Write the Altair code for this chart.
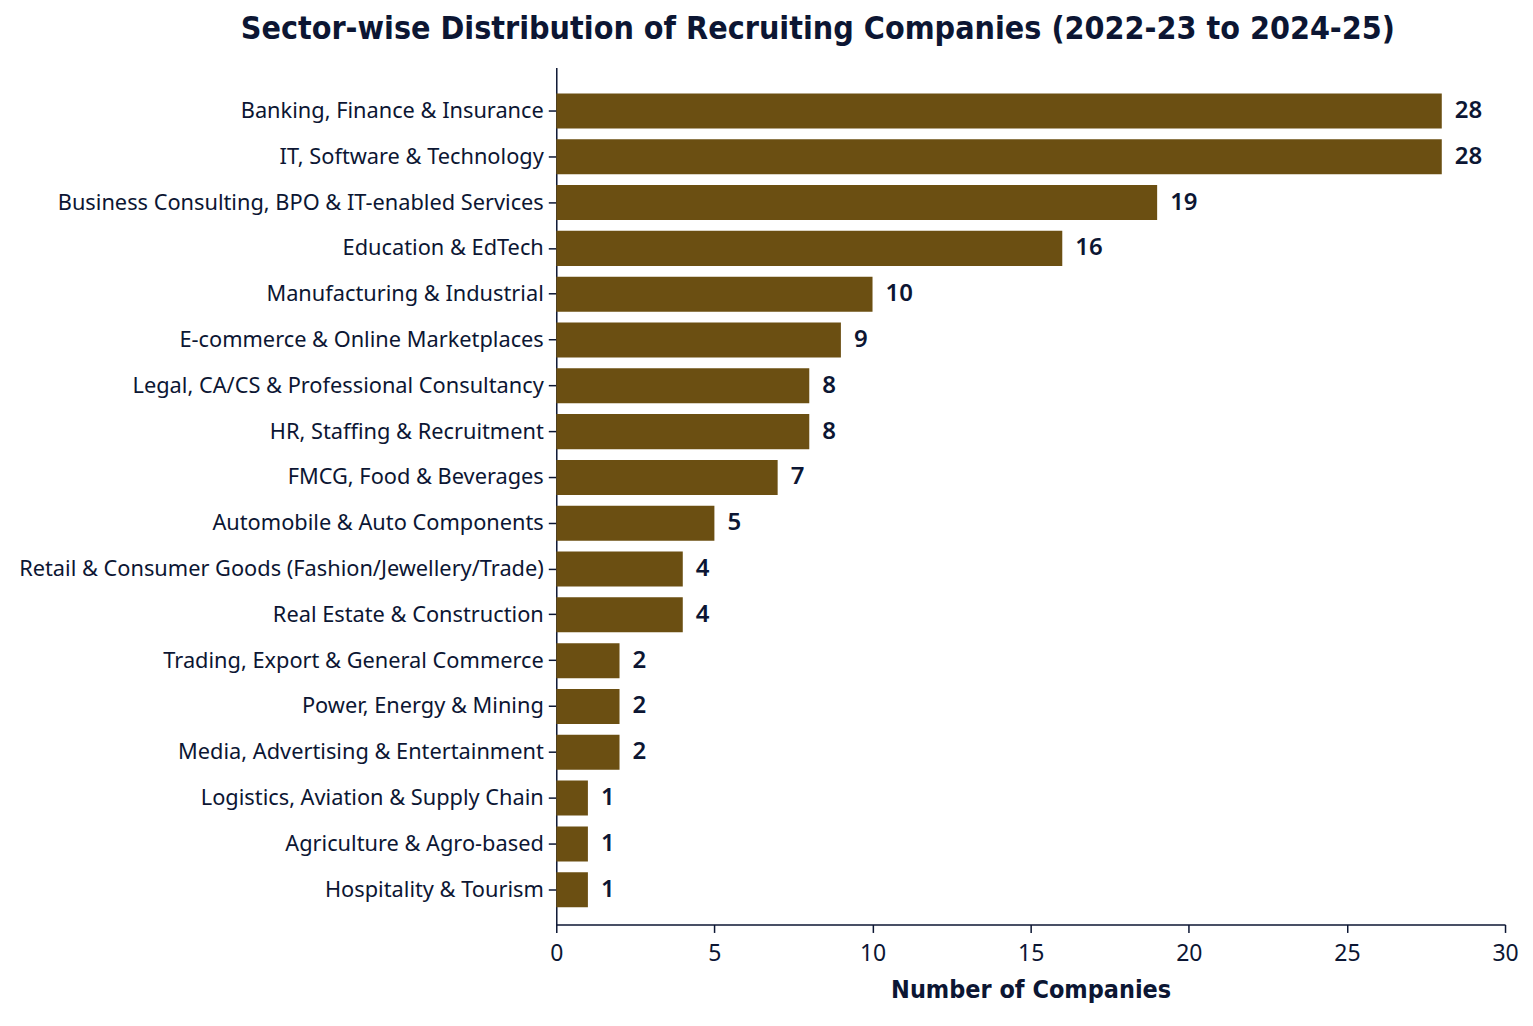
import altair as alt
import pandas as pd

sectors = [
    "Banking, Finance & Insurance",
    "IT, Software & Technology",
    "Business Consulting, BPO & IT-enabled Services",
    "Education & EdTech",
    "Manufacturing & Industrial",
    "E-commerce & Online Marketplaces",
    "Legal, CA/CS & Professional Consultancy",
    "HR, Staffing & Recruitment",
    "FMCG, Food & Beverages",
    "Automobile & Auto Components",
    "Retail & Consumer Goods (Fashion/Jewellery/Trade)",
    "Real Estate & Construction",
    "Trading, Export & General Commerce",
    "Power, Energy & Mining",
    "Media, Advertising & Entertainment",
    "Logistics, Aviation & Supply Chain",
    "Agriculture & Agro-based",
    "Hospitality & Tourism",
]
counts = [28, 28, 19, 16, 10, 9, 8, 8, 7, 5, 4, 4, 2, 2, 2, 1, 1, 1]
x_ticks = [0, 5, 10, 15, 20, 25, 30]

df = pd.DataFrame({"sector": sectors, "count": counts})

TEXT = "#0c1633"
BAR = "#6b4f12"
LABEL_FONT = "Noto Sans"
TITLE_FONT = "DejaVu Sans Condensed"

y_enc = alt.Y(
    "sector:N",
    sort=sectors,
    scale=alt.Scale(paddingInner=0.235, paddingOuter=0.47, align=0.6),
    axis=alt.Axis(
        title=None,
        labelFont=LABEL_FONT,
        labelFontSize=21.8,
        labelColor=TEXT,
        labelLimit=600,
        labelPadding=5,
        tickSize=8,
        tickColor=TEXT,
        tickWidth=1.5,
        domainColor=TEXT,
        domainWidth=1.5,
        grid=False,
    ),
)
x_enc = alt.X(
    "count:Q",
    scale=alt.Scale(domain=[0, 30], nice=False),
    axis=alt.Axis(
        values=x_ticks,
        title="Number of Companies",
        titleFont=TITLE_FONT,
        titleFontSize=25,
        titleFontWeight="bold",
        titleColor=TEXT,
        titlePadding=12,
        labelFont=LABEL_FONT,
        labelFontSize=23,
        labelColor=TEXT,
        labelPadding=10,
        labelFlush=False,
        tickSize=8,
        tickColor=TEXT,
        tickWidth=1.5,
        domainColor=TEXT,
        domainWidth=1.5,
        grid=False,
    ),
)

base = alt.Chart(df)
bars = base.mark_bar(color=BAR).encode(y=y_enc, x=x_enc)
labels = base.mark_text(
    align="left",
    baseline="middle",
    dx=13,
    font=LABEL_FONT,
    fontSize=24,
    fontWeight=600,
    color=TEXT,
).encode(
    y=alt.Y("sector:N", sort=sectors),
    x=alt.X("count:Q"),
    text="count:Q",
)

chart = (
    (bars + labels)
    .properties(
        width=950,
        height=858,
        background="white",
        title=alt.TitleParams(
            "Sector-wise Distribution of Recruiting Companies (2022-23 to 2024-25)",
            font=TITLE_FONT,
            fontSize=32,
            fontWeight="bold",
            color=TEXT,
            anchor="start",
            frame="group",
            dx=-316,
            offset=22,
        ),
        padding={"left": 549, "top": 59, "right": 20, "bottom": 90},
        autosize="none",
    )
    .configure_view(strokeWidth=0, stroke="transparent")
    .configure_axis(grid=False)
)

chart.save("out.html", embed_options={"renderer": "svg", "actions": False})
